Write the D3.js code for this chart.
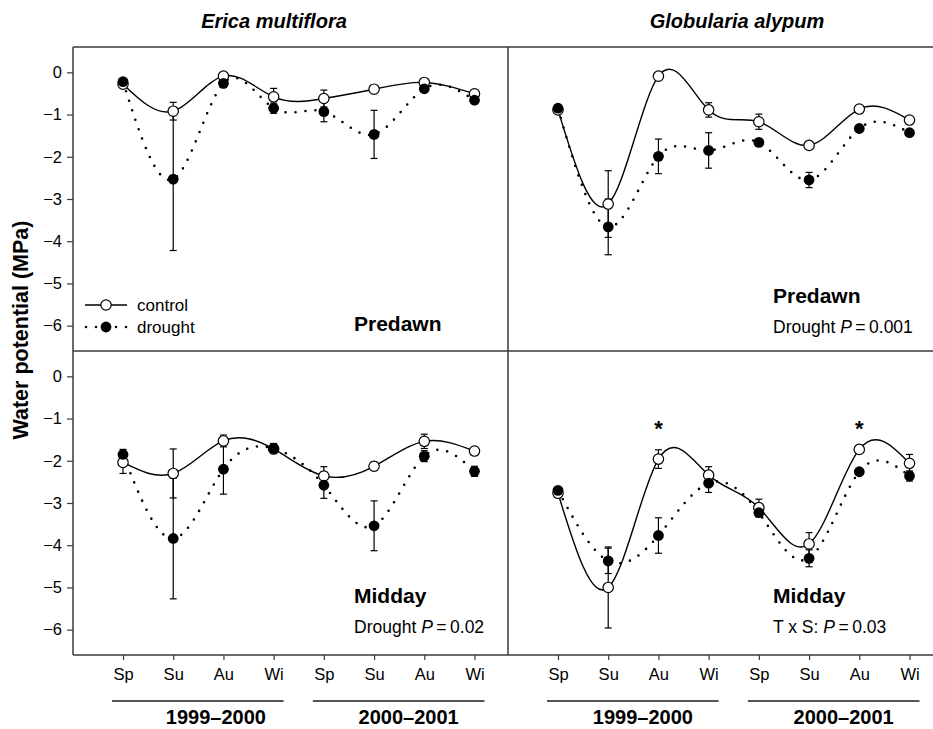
<!DOCTYPE html>
<html>
<head>
<meta charset="utf-8">
<script src="https://cdn.jsdelivr.net/npm/d3@7"></script>
<style>
  html, body { margin: 0; padding: 0; background: #fff; }
  svg { display: block; font-family: "Liberation Sans", Arial, Helvetica, sans-serif; }
</style>
</head>
<body>
<svg id="chart" width="933" height="729"></svg>
<script>
// ---- data ----
const seasons = ["Sp", "Su", "Au", "Wi", "Sp", "Su", "Au", "Wi"];
const years = ["1999\u20132000", "2000\u20132001"];
const yTicks = [0, -1, -2, -3, -4, -5, -6];
const species = ["Erica multiflora", "Globularia alypum"];
const seriesNames = ["control", "drought"];

// Erica multiflora – predawn
const ericaPredawnControl   = [-0.28, -0.92, -0.09, -0.58, -0.62, -0.40, -0.24, -0.51];
const ericaPredawnControlSE = [0.03, 0.21, 0.04, 0.20, 0.20, 0.04, 0.04, 0.04];
const ericaPredawnDrought   = [-0.22, -2.53, -0.26, -0.85, -0.93, -1.47, -0.39, -0.66];
const ericaPredawnDroughtSE = [0.04, 1.69, 0.10, 0.12, 0.24, 0.57, 0.05, 0.05];
// Globularia alypum – predawn
const globPredawnControl   = [-0.89, -3.12, -0.09, -0.89, -1.17, -1.73, -0.87, -1.13];
const globPredawnControlSE = [0.04, 0.79, 0.04, 0.17, 0.18, 0.08, 0.04, 0.04];
const globPredawnDrought   = [-0.85, -3.66, -1.99, -1.85, -1.66, -2.55, -1.33, -1.43];
const globPredawnDroughtSE = [0.04, 0.66, 0.41, 0.42, 0.08, 0.18, 0.05, 0.05];
// Erica multiflora – midday
const ericaMiddayControl   = [-2.04, -2.30, -1.53, -1.72, -2.36, -2.13, -1.54, -1.77];
const ericaMiddayControlSE = [0.26, 0.58, 0.14, 0.10, 0.22, 0.10, 0.17, 0.04];
const ericaMiddayDrought   = [-1.85, -3.84, -2.20, -1.71, -2.58, -3.54, -1.89, -2.25];
const ericaMiddayDroughtSE = [0.12, 1.43, 0.59, 0.12, 0.31, 0.59, 0.13, 0.12];
// Globularia alypum – midday
const globMiddayControl   = [-2.77, -5.00, -1.96, -2.34, -3.11, -3.97, -1.73, -2.06];
const globMiddayControlSE = [0.05, 0.96, 0.22, 0.20, 0.20, 0.27, 0.04, 0.21];
const globMiddayDrought   = [-2.70, -4.37, -3.77, -2.53, -3.23, -4.31, -2.26, -2.36];
const globMiddayDroughtSE = [0.05, 0.30, 0.42, 0.22, 0.10, 0.20, 0.05, 0.12];

const panelLabels = ["Predawn", "Predawn", "Midday", "Midday"];
const panelNotes = [null, ["Drought ", "P", "\u2009=\u20090.001"], ["Drought ", "P", "\u2009=\u20090.02"], ["T x S: ", "P", "\u2009=\u20090.03"]];
const asteriskIdx = [2, 6]; // significant seasons, Globularia midday

// ---- layout ----
const svg = d3.select("#chart");
const L = 73, MID = 508, R = 943, T = 47, HM = 351, B = 655;
const PW = MID - L, PH = HM - T;
const frameColor = "#3a3a3a";

const x = d3.scalePoint().domain(d3.range(seasons.length)).range([50, 401.5]).padding(0);
const y = d3.scaleLinear().domain([-6.6, 0.6]).range([PH, 0]);

const panels = [
  {col: 0, row: 0, c: ericaPredawnControl, cse: ericaPredawnControlSE, d: ericaPredawnDrought, dse: ericaPredawnDroughtSE},
  {col: 1, row: 0, c: globPredawnControl, cse: globPredawnControlSE, d: globPredawnDrought, dse: globPredawnDroughtSE},
  {col: 0, row: 1, c: ericaMiddayControl, cse: ericaMiddayControlSE, d: ericaMiddayDrought, dse: ericaMiddayDroughtSE},
  {col: 1, row: 1, c: globMiddayControl, cse: globMiddayControlSE, d: globMiddayDrought, dse: globMiddayDroughtSE}
];

const line = d3.line().x((v, i) => x(i)).y(v => y(v)).curve(d3.curveNatural);

panels.forEach((p, k) => {
  const g = svg.append("g").attr("transform", `translate(${p.col ? MID : L},${p.row ? HM : T})`);
  // error bars
  const eb = (vals, se) => {
    vals.forEach((v, i) => {
      const y1 = y(v + se[i]), y2 = y(v - se[i]);
      g.append("line").attr("x1", x(i)).attr("x2", x(i)).attr("y1", y1).attr("y2", y2).attr("stroke", "#000").attr("stroke-width", 1.2);
      [y1, y2].forEach(yy => g.append("line").attr("x1", x(i) - 3.5).attr("x2", x(i) + 3.5).attr("y1", yy).attr("y2", yy).attr("stroke", "#000").attr("stroke-width", 1.2));
    });
  };
  eb(p.c, p.cse);
  eb(p.d, p.dse);
  // lines
  g.append("path").attr("d", line(p.d)).attr("fill", "none").attr("stroke", "#000")
    .attr("stroke-width", 2.6).attr("stroke-linecap", "round").attr("stroke-dasharray", "0,10");
  g.append("path").attr("d", line(p.c)).attr("fill", "none").attr("stroke", "#000").attr("stroke-width", 1.4);
  // markers
  g.selectAll(".dc").data(p.c).enter().append("circle")
    .attr("cx", (v, i) => x(i)).attr("cy", v => y(v)).attr("r", 5.2)
    .attr("fill", "#fff").attr("stroke", "#000").attr("stroke-width", 1.2);
  g.selectAll(".dd").data(p.d).enter().append("circle")
    .attr("cx", (v, i) => x(i)).attr("cy", v => y(v)).attr("r", 5.4).attr("fill", "#000");

  // labels
  const lx = p.col ? 265 : 281;
  const ly = p.row ? 252 : (p.col ? 256 : 284);
  g.append("text").attr("x", lx).attr("y", ly).attr("font-size", 21).attr("font-weight", "bold").text(panelLabels[k]);
  if (panelNotes[k]) {
    const t = g.append("text").attr("x", lx).attr("y", ly + 30).attr("font-size", 17.5);
    t.append("tspan").text(panelNotes[k][0]);
    t.append("tspan").attr("font-style", "italic").text(panelNotes[k][1]);
    t.append("tspan").text(panelNotes[k][2]);
  }
  if (p.col === 1 && p.row === 1) {
    asteriskIdx.forEach(i => g.append("text").attr("x", x(i)).attr("y", 85).attr("text-anchor", "middle")
      .attr("font-size", 22).attr("font-weight", "bold").text("*"));
  }
  // y axis on left column
  if (p.col === 0) {
    const ax = g.append("g").call(d3.axisLeft(y).tickValues(yTicks).tickSize(6).tickSizeOuter(0).tickFormat(d => d === 0 ? "0" : "\u2212" + Math.abs(d)));
    ax.select(".domain").remove();
    ax.selectAll("line").attr("stroke", frameColor).attr("stroke-width", 1.2);
    ax.selectAll("text").attr("font-size", 16.5).attr("font-family", "Liberation Sans, Arial, sans-serif").attr("fill", "#000").attr("dx", "-2");
  }
  // x axis on bottom row
  if (p.row === 1) {
    const ax = g.append("g").attr("transform", `translate(0,${PH})`)
      .call(d3.axisBottom(x).tickSize(5).tickSizeOuter(0).tickFormat(i => seasons[i]));
    ax.select(".domain").remove();
    ax.selectAll("line").attr("stroke", frameColor).attr("stroke-width", 1.2);
    ax.selectAll("text").attr("font-size", 16.5).attr("font-family", "Liberation Sans, Arial, sans-serif").attr("fill", "#000").attr("dy", "1.0em");
    // year bars
    [[0, 3], [4, 7]].forEach((rng, j) => {
      const x1 = x(rng[0]) - 11, x2 = x(rng[1]) + 10;
      g.append("line").attr("x1", x1).attr("x2", x2).attr("y1", PH + 46).attr("y2", PH + 46)
        .attr("stroke", "#555").attr("stroke-width", 1.8);
      g.append("text").attr("x", (x1 + x2) / 2 + (j === 0 && p.col === 0 ? 18 : 10)).attr("y", PH + 69)
        .attr("text-anchor", "middle").attr("font-size", 20).attr("font-weight", "bold").text(years[j]);
    });
  }
});

// frame
const fr = svg.append("g").attr("stroke", frameColor).attr("stroke-width", 1.5).attr("fill", "none");
fr.append("line").attr("x1", L).attr("x2", R).attr("y1", T).attr("y2", T);
fr.append("line").attr("x1", L).attr("x2", R).attr("y1", HM).attr("y2", HM);
fr.append("line").attr("x1", L).attr("x2", R).attr("y1", B).attr("y2", B);
fr.append("line").attr("x1", L).attr("x2", L).attr("y1", T).attr("y2", B);
fr.append("line").attr("x1", MID).attr("x2", MID).attr("y1", T).attr("y2", B);

// titles
[[274, species[0]], [737, species[1]]].forEach(([cx, s]) =>
  svg.append("text").attr("x", cx).attr("y", 28).attr("text-anchor", "middle").attr("font-size", 20)
    .attr("font-weight", "bold").attr("font-style", "italic").text(s));

// y label
svg.append("text").attr("transform", "translate(28,330) rotate(-90)").attr("text-anchor", "middle")
  .attr("font-size", 21.5).attr("font-weight", "bold").text("Water potential (MPa)");

// legend
const lg = svg.append("g");
lg.append("line").attr("x1", 85).attr("x2", 127).attr("y1", 305).attr("y2", 305).attr("stroke", "#000").attr("stroke-width", 1.4);
lg.append("circle").attr("cx", 106).attr("cy", 305).attr("r", 5.2).attr("fill", "#fff").attr("stroke", "#000").attr("stroke-width", 1.2);
lg.append("text").attr("x", 137).attr("y", 311).attr("font-size", 17).text(seriesNames[0]);
lg.append("line").attr("x1", 86).attr("x2", 127).attr("y1", 327).attr("y2", 327).attr("stroke", "#000")
  .attr("stroke-width", 2.6).attr("stroke-linecap", "round").attr("stroke-dasharray", "0,10");
lg.append("circle").attr("cx", 106).attr("cy", 327).attr("r", 5.4).attr("fill", "#000");
lg.append("text").attr("x", 137).attr("y", 333).attr("font-size", 17).text(seriesNames[1]);
</script>
</body>
</html>
